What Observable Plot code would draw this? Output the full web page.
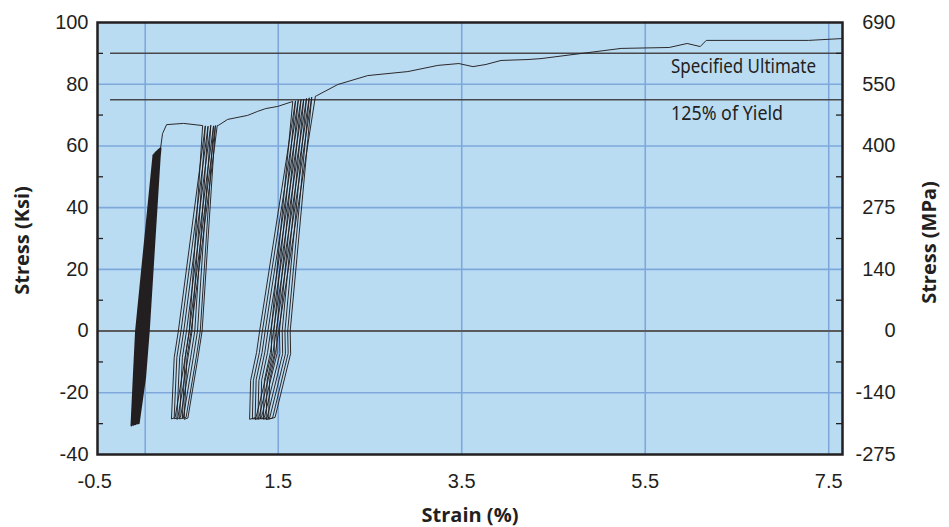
<!DOCTYPE html>
<html><head><meta charset="utf-8">
<script src="https://cdn.jsdelivr.net/npm/d3@7"></script>
<script src="https://cdn.jsdelivr.net/npm/@observablehq/plot@0.6"></script>
<style>body{margin:0;background:#fff;}</style>
</head><body><div id="chart"></div>
<script>
// ---- axes / reference data ----
const xTicks = [-0.5, 1.5, 3.5, 5.5, 7.5];
const xGrid = [0.05, 1.5, 3.5, 5.5, 7.5];
const yTicksKsi = [-40, -20, 0, 20, 40, 60, 80, 100];
const yTicksMPa = ["-275", "-140", "0", "140", "275", "400", "550", "690"];
const yGrid = [-20, 20, 40, 60, 80];
const yMinor = [-30, -10, 10, 30, 50, 70, 90];
const refValues = [90, 75];
const refLabels = ["Specified Ultimate", "125% of Yield"];
const refStart = -0.328;
const refEnd = 7.65;
const refLabelX = 5.781;

// ---- stress-strain record [strain %, stress ksi] ----
const cluster1 = [
 [-0.100,-30.6],[-0.075,-15],[-0.050,0],
 [0.140,57.0],[0.015,0],[-0.025,-15],[-0.095,-30.3],[-0.070,-15],[-0.045,0],
 [0.148,57.3],[0.023,0],[-0.017,-15],[-0.087,-30.1],[-0.062,-15],[-0.037,0],
 [0.157,57.6],[0.032,0],[-0.008,-15],[-0.078,-30.4],[-0.053,-15],[-0.028,0],
 [0.165,57.9],[0.040,0],[0.000,-15],[-0.070,-30.0],[-0.045,-15],[-0.020,0],
 [0.173,58.1],[0.048,0],[0.008,-15],[-0.062,-30.2],[-0.037,-15],[-0.012,0],
 [0.181,58.3],[0.056,0],[0.016,-15],[-0.054,-30.1],[-0.029,-15],[-0.004,0],
 [0.190,58.6],[0.065,0],[0.025,-15],[-0.045,-29.9],[-0.020,-15],[0.005,0],
 [0.198,58.8],[0.073,0],[0.033,-15],[-0.037,-30.0],[-0.012,-15],[0.013,0],
 [0.206,59.0],[0.081,0],[0.041,-15],[-0.029,-29.8],[-0.004,-15],[0.021,0],
 [0.214,59.2],[0.089,0],[0.049,-15],[-0.021,-29.9],[0.004,-15],[0.029,0],
 [0.217,59.2]
];
const segA = [[0.217,59.2],[0.239,64.0],[0.283,66.9],[0.468,67.3],[0.676,66.6]];
const cluster2 = [
 [0.676,66.6],[0.531,0],[0.486,-8.6],[0.376,-28.0],[0.336,-28.5],[0.366,-8.6],[0.411,0],
 [0.705,66.5],[0.560,0],[0.515,-8.8],[0.405,-28.2],[0.365,-28.4],[0.395,-8.5],[0.440,0],
 [0.735,66.4],[0.590,0],[0.545,-8.6],[0.435,-27.9],[0.395,-28.6],[0.425,-8.7],[0.470,0],
 [0.765,66.7],[0.620,0],[0.575,-8.4],[0.465,-28.1],[0.425,-28.5],[0.455,-8.6],[0.500,0],
 [0.795,66.5],[0.650,0],[0.605,-8.7],[0.495,-28.0],[0.455,-28.3],[0.485,-8.6],[0.530,0],
 [0.815,66.6],[0.670,0],[0.625,-8.6],[0.515,-28.2],[0.475,-28.6],[0.505,-8.5],[0.550,0],
 [0.835,66.6]
];
const segB = [[0.835,66.6],[0.850,66.7],[0.949,68.6],[1.167,69.9],[1.276,71.2],[1.363,72.1],[1.494,72.8],[1.658,74.4]];
const cluster3 = [
 [1.658,74.4],[1.423,0],[1.428,-7.3],[1.258,-28.0],[1.188,-28.6],[1.199,-16],[1.264,-6.9],[1.297,0],
 [1.688,74.6],[1.453,0],[1.458,-7.4],[1.288,-28.1],[1.218,-28.5],[1.229,-16],[1.294,-7.0],[1.327,0],
 [1.718,74.8],[1.483,0],[1.488,-7.2],[1.318,-27.9],[1.248,-28.7],[1.259,-15.8],[1.324,-6.9],[1.357,0],
 [1.748,75.0],[1.513,0],[1.518,-7.3],[1.348,-28.0],[1.278,-28.6],[1.289,-16.1],[1.354,-6.8],[1.387,0],
 [1.778,75.2],[1.543,0],[1.548,-7.3],[1.378,-28.1],[1.308,-28.5],[1.319,-16],[1.384,-6.9],[1.417,0],
 [1.808,75.4],[1.573,0],[1.578,-7.4],[1.408,-28.0],[1.338,-28.6],[1.349,-16],[1.414,-7.0],[1.447,0],
 [1.838,75.6],[1.603,0],[1.608,-7.2],[1.438,-28.2],[1.368,-28.7],[1.379,-15.9],[1.444,-6.9],[1.477,0],
 [1.865,75.8],[1.630,0],[1.635,-7.3],[1.465,-28.0],[1.395,-28.5],[1.406,-16],[1.471,-6.9],[1.504,0],
 [1.905,76.1]
];
const segC = [[1.905,76.1],[1.920,76.3],[2.149,79.9],[2.476,82.8],[2.913,84.1],[3.240,86.1],[3.469,86.7],
 [3.622,85.7],[3.764,86.4],[3.928,87.7],[4.222,88.0],[4.364,88.3],[5.237,91.6],[5.761,91.9],[5.957,93.2],
 [6.099,92.2],[6.165,94.2],[7.278,94.2],[7.650,94.8]];

const rows = arr => arr.map(([strain, stress]) => ({strain, stress}));
const firstRows = rows(cluster1);
const mainRows = rows([...segA, ...cluster2, ...segB, ...cluster3, ...segC]);

const ink = "#231f20";
const gridBlue = "#7ea8db";
const sansTick = "'Liberation Sans', Arial, Helvetica, sans-serif";
const sansTitle = "'Open Sans', 'Noto Sans', sans-serif";
const fmt = d => String(d);

const chart = Plot.plot({
  width: 949, height: 527,
  marginLeft: 97, marginRight: 107, marginTop: 22, marginBottom: 73,
  x: {domain: [-0.47, 7.65], label: null},
  y: {domain: [-40, 100], label: null},
  style: {background: "#ffffff", fontFamily: sansTick, fontSize: "20px", color: ink},
  marks: [
    Plot.frame({fill: "#badcf3"}),
    Plot.ruleX(xGrid, {stroke: gridBlue, strokeWidth: 1.6}),
    Plot.ruleY(yGrid, {stroke: gridBlue, strokeWidth: 1.6}),
    Plot.ruleY([0], {stroke: "#5b5b5e", strokeWidth: 2}),
    Plot.ruleY(refValues, {y: d => d, x1: refStart, x2: refEnd, stroke: "#48484a", strokeWidth: 1.5}),
    Plot.text(refValues, {x: refLabelX, y: d => d, text: (d, i) => refLabels[i], dy: 14,
      textAnchor: "start", fontSize: 19, fill: ink, fontFamily: "'Noto Sans', 'Open Sans', sans-serif"}),
    Plot.line(firstRows, {x: "strain", y: "stress", stroke: ink, strokeWidth: 1.9, strokeLinejoin: "round"}),
    Plot.line(mainRows, {x: "strain", y: "stress", stroke: ink, strokeWidth: 0.95, strokeLinejoin: "round"}),
    Plot.tickY(yMinor, {y: d => d, insetRight: 739, stroke: ink, strokeWidth: 1.3}),
    Plot.tickY(yMinor, {y: d => d, insetLeft: 739, stroke: ink, strokeWidth: 1.3}),
    Plot.frame({stroke: ink, strokeWidth: 2.5}),
    Plot.axisX(xTicks, {anchor: "bottom", tickSize: 0, tickPadding: 19, fontSize: 20, fontFamily: sansTick, label: null, tickFormat: fmt}),
    Plot.axisY(yTicksKsi, {anchor: "left", tickSize: 0, tickPadding: 9, fontSize: 20, fontFamily: sansTick, label: null, tickFormat: fmt}),
    Plot.axisY(yTicksKsi, {anchor: "right", tickSize: 0, tickPadding: 0, textAnchor: "end", dx: 53,
      fontSize: 20, fontFamily: sansTick, label: null, tickFormat: d => yTicksMPa[yTicksKsi.indexOf(d)]}),
    Plot.text(["Strain (%)"], {frameAnchor: "bottom", dy: 67, fontSize: 20, fontWeight: "bold", fontFamily: sansTitle, fill: ink}),
    Plot.text(["Stress (Ksi)"], {frameAnchor: "left", textAnchor: "middle", dx: -75, dy: 2, rotate: -90, fontSize: 20, fontWeight: "bold", fontFamily: sansTitle, fill: ink}),
    Plot.text(["Stress (MPa)"], {frameAnchor: "right", textAnchor: "middle", dx: 87, dy: 4, rotate: -90, fontSize: 20, fontWeight: "bold", fontFamily: sansTitle, fill: ink})
  ]
});

chart.querySelectorAll("text").forEach(t => {
  if (t.textContent === "Specified Ultimate") { t.setAttribute("textLength", 145); t.setAttribute("lengthAdjust", "spacingAndGlyphs"); }
  if (t.textContent === "125% of Yield") { t.setAttribute("textLength", 112); t.setAttribute("lengthAdjust", "spacingAndGlyphs"); }
});
document.getElementById("chart").appendChild(chart);
</script></body></html>
